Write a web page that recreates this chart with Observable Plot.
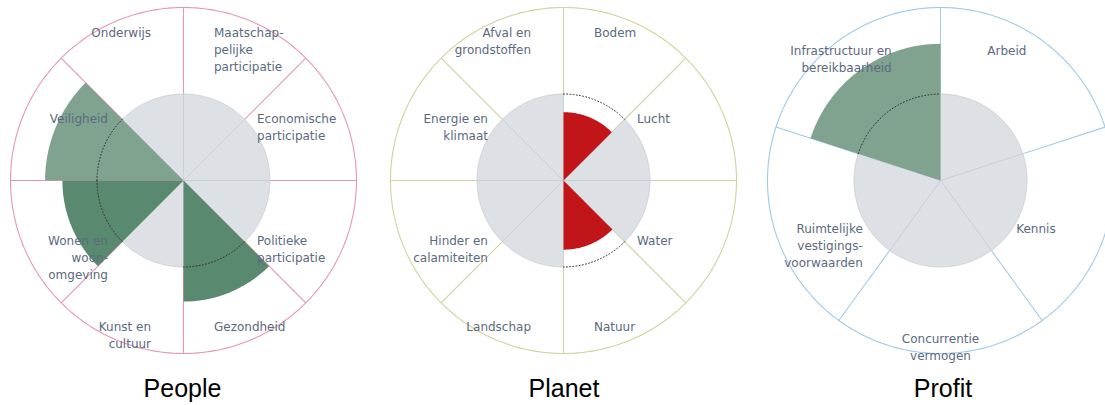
<!DOCTYPE html>
<html><head><meta charset="utf-8">
<script src="https://cdn.jsdelivr.net/npm/d3@7"></script>
<script src="https://cdn.jsdelivr.net/npm/@observablehq/plot@0.6"></script>
<style>
html,body{margin:0;padding:0;background:#fff;width:1105px;height:405px;overflow:hidden;position:relative;}
.chart{position:absolute;top:0;}
.title{position:absolute;top:376px;font-family:"Liberation Sans",Arial,sans-serif;font-size:25px;line-height:25px;color:#000;transform:translateX(-50%);white-space:nowrap;}
</style></head><body>
<script>
// ---- data (values are indices relative to the reference value 1) ----
const titles = ["People", "Planet", "Profit"];

const peopleCategories = ["Maatschap-\npelijke\nparticipatie", "Economische\nparticipatie", "Politieke\nparticipatie", "Gezondheid", "Kunst en\ncultuur", "Wonen en\nwoon-\nomgeving", "Veiligheid", "Onderwijs"];
const peopleValues = [null, null, null, 1.4, null, 1.4, 1.6, null];
const peopleShades = [null, null, null, "dark", null, "dark", "light", null];

const planetCategories = ["Bodem", "Lucht", "Water", "Natuur", "Landschap", "Hinder en\ncalamiteiten", "Energie en\nklimaat", "Afval en\ngrondstoffen"];
const planetValues = [0.79, null, null, 0.8, null, null, null, null];
const planetShades = ["red", null, null, "red", null, null, null, null];

const profitCategories = ["Arbeid", "Kennis", "Concurrentie\nvermogen", "Ruimtelijke\nvestigings-\nvoorwaarden", "Infrastructuur en\nbereikbaarheid"];
const profitValues = [null, null, null, null, 1.58];
const profitShades = [null, null, null, null, "light"];

// ---- styles ----
const shadeColor = {dark: "#598a6f", light: "#80a390", red: "#c1151a"};
const lineColors = ["#e797b4", "#d2d29c", "#9fcaea"];
const centersX = [183, 563, 940];
const WIDTH = 360, HEIGHT = 378, CY = 180, OUTER_PX = 173;

function rose(categories, values, shades, lineColor) {
  const n = categories.length, step = 2 * Math.PI / n, R0 = 0.5;
  const sectors = categories.map((name, i) => ({name, i, a0: i * step, a1: (i + 1) * step, value: values[i], shade: shades[i]}));
  const arcPts = (s, r, withCenter, k = 48) => {
    const pts = [];
    if (withCenter) pts.push({id: s.i, x: 0, y: 0});
    for (let j = 0; j <= k; j++) {
      const a = s.a0 + (s.a1 - s.a0) * j / k;
      pts.push({id: s.i, x: r * Math.sin(a), y: r * Math.cos(a)});
    }
    if (withCenter) pts.push({id: s.i, x: 0, y: 0});
    return pts;
  };
  const greyPts = sectors.filter(s => s.value == null).flatMap(s => arcPts(s, R0, true));
  const valPts = sectors.filter(s => s.value != null).flatMap(s => arcPts(s, s.value * R0, true).map(p => ({...p, fill: shadeColor[s.shade]})));
  const refArcs = sectors.filter(s => s.value != null).flatMap(s => arcPts(s, R0, false));
  const outer = arcPts({i: -1, a0: 0, a1: 2 * Math.PI}, 1, false, 360);
  const spokes = sectors.map(s => ({x: Math.sin(s.a0), y: Math.cos(s.a0)}));
  const labels = sectors.map(s => {
    const a = (s.a0 + s.a1) / 2, sx = Math.sin(a);
    return {name: s.name, x: 0.46 * sx, y: 0.92 * Math.cos(a), side: sx > 0.01 ? "start" : sx < -0.01 ? "end" : "middle"};
  });
  const halfX = (WIDTH / 2) / OUTER_PX;
  const textOpts = side => ({x: "x", y: "y", text: "name", textAnchor: side, lineAnchor: "top", lineHeight: 1.42, dy: -9, dx: side === "end" ? -2 : 0, fill: "#5b6a80", fontSize: 12, fontFamily: "DejaVu Sans"});
  return Plot.plot({
    width: WIDTH, height: HEIGHT, margin: 0,
    x: {domain: [-halfX, halfX], axis: null},
    y: {domain: [-(HEIGHT - CY) / OUTER_PX, CY / OUTER_PX], axis: null},
    color: {type: "identity"},
    style: {background: "transparent", overflow: "visible"},
    marks: [
      Plot.line(outer, {x: "x", y: "y", stroke: lineColor, strokeWidth: 1.1}),
      Plot.link(spokes, {x1: 0, y1: 0, x2: "x", y2: "y", stroke: lineColor, strokeWidth: 1.1}),
      Plot.line(greyPts, {x: "x", y: "y", z: "id", fill: "#dde1e5", stroke: "#c9ced3", strokeWidth: 0.8, curve: "linear"}),
      Plot.line(valPts, {x: "x", y: "y", z: "id", fill: "fill", stroke: "none", curve: "linear"}),
      Plot.line(refArcs, {x: "x", y: "y", z: "id", stroke: "#333", strokeWidth: 1, strokeDasharray: "1,2.2"}),
      ...["start", "end", "middle"].map(side => Plot.text(labels.filter(d => d.side === side), textOpts(side)))
    ]
  });
}

const specs = [
  [peopleCategories, peopleValues, peopleShades],
  [planetCategories, planetValues, planetShades],
  [profitCategories, profitValues, profitShades]
];
specs.forEach(([c, v, s], k) => {
  const svg = rose(c, v, s, lineColors[k]);
  svg.classList.add("chart");
  svg.style.left = (centersX[k] - WIDTH / 2) + "px";
  document.body.appendChild(svg);
});
titles.forEach((title, k) => {
  const t = document.createElement("div");
  t.className = "title";
  t.textContent = title;
  t.style.left = [182.5, 564, 943][k] + "px";
  document.body.appendChild(t);
});
</script>
</body></html>
